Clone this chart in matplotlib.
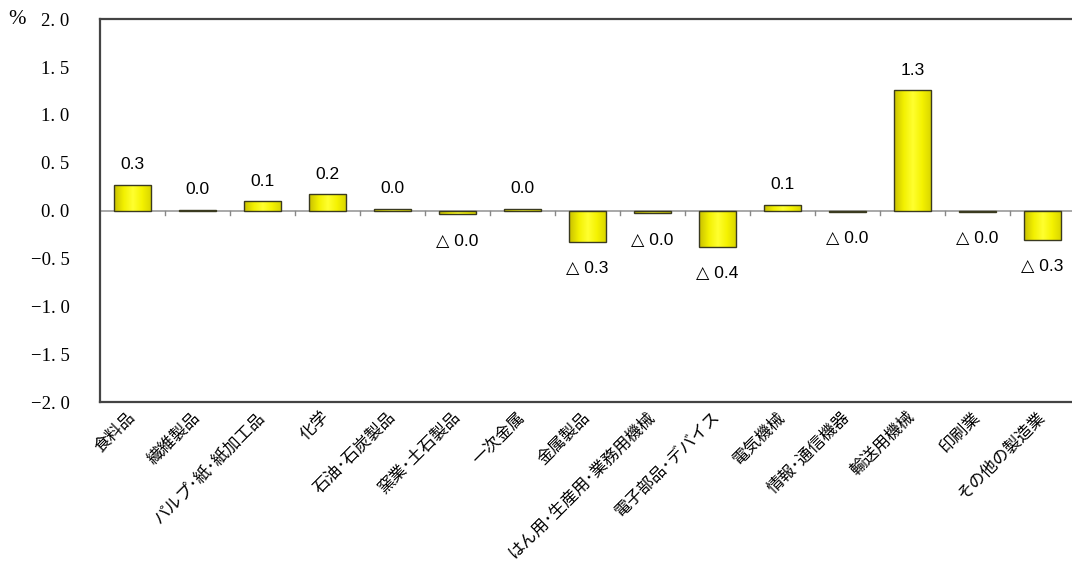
import numpy as np
import matplotlib.pyplot as plt
from matplotlib.colors import LinearSegmentedColormap

# 業種別の寄与度 (%)
categories = ['食料品', '繊維製品', 'パルプ･紙･紙加工品', '化学', '石油･石炭製品',
              '窯業･土石製品', '一次金属', '金属製品', 'はん用･生産用･業務用機械',
              '電子部品･デバイス', '電気機械', '情報･通信機器', '輸送用機械',
              '印刷業', 'その他の製造業']
values = [0.27, 0.01, 0.10, 0.17, 0.02, -0.04, 0.02, -0.33, -0.03,
          -0.38, 0.06, -0.01, 1.26, -0.01, -0.31]
yticks = [2.0, 1.5, 1.0, 0.5, 0.0, -0.5, -1.0, -1.5, -2.0]


def value_label(v):
    if v < 0:
        return '△ ' + f'{abs(v):.1f}'
    return f'{v:.1f}'


def tick_label(t):
    s = f'{abs(t):.1f}'.replace('.', '. ')
    return ('−' + s) if t < 0 else s


fig = plt.figure(figsize=(10.72, 5.81), dpi=100)
ax = fig.add_axes([0.0933, 0.308, 0.9095, 0.659])

x = np.arange(len(categories))
bars = ax.bar(x, values, width=0.57, color='#F0F000', edgecolor='#3a3a20',
              linewidth=1.0, zorder=3)

# cylinder-like shading across each bar
shade = LinearSegmentedColormap.from_list(
    'shade', ['#c9c000', '#f2f000', '#ffff30', '#f4f200', '#d8d400'])
grad = np.linspace(0, 1, 64).reshape(1, -1)
for p in bars:
    x0, y0 = p.get_x(), p.get_y()
    w, h = p.get_width(), p.get_height()
    im = ax.imshow(grad, cmap=shade, aspect='auto', zorder=3,
                   extent=(x0, x0 + w, min(y0, y0 + h), max(y0, y0 + h)))
    im.set_clip_path(p)
    p.set_facecolor('none')
    p.set_zorder(4)

# zero line and category separators
ax.axhline(0, color='#999999', linewidth=1.2, zorder=2)
for b in np.arange(0.5, len(categories) - 0.5, 1.0):
    ax.plot([b, b], [0, -0.05], color='#888888', linewidth=1.0, zorder=2)

for xi, v in zip(x, values):
    if v >= 0:
        ax.text(xi, v + 0.13, value_label(v), ha='center', va='bottom', fontsize=12.5,
                family=['Liberation Sans', 'DejaVu Sans'])
    else:
        ax.text(xi, v - 0.2, value_label(v), ha='center', va='top', fontsize=12.5,
                family=['Liberation Sans', 'DejaVu Sans'])

ax.set_xlim(-0.5, len(categories) - 0.5)
ax.set_ylim(-2.0, 2.0)
ax.set_yticks(yticks)
ax.set_yticklabels([tick_label(t) for t in yticks],
                   family='Liberation Serif', fontsize=13.5)
ax.tick_params(axis='y', length=0, pad=22)

ax.set_xticks(x)
ax.set_xticklabels(categories, rotation=45, ha='right', va='center',
                   rotation_mode='anchor', family='Noto Sans CJK JP', fontsize=12)
ax.tick_params(axis='x', length=0, pad=9)

for s in ax.spines.values():
    s.set_color('#444444')
    s.set_linewidth(1.6)

fig.text(8 / 1072, 1 - 20 / 581, '%', family='Liberation Serif', fontsize=15,
         ha='left', va='center')

fig.savefig('out.png', dpi=100)
